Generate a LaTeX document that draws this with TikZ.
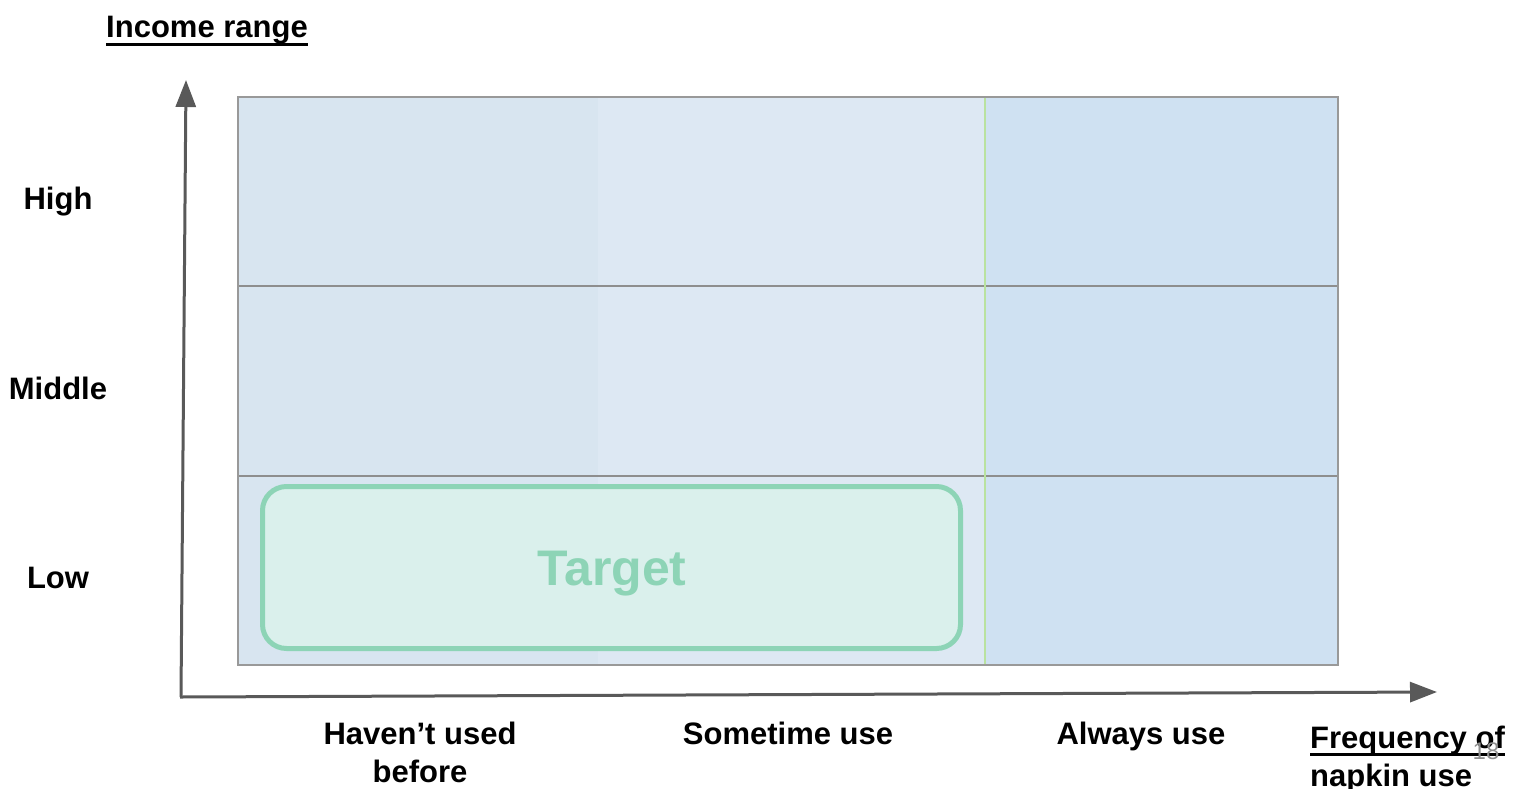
\documentclass[tikz,border=0pt]{standalone}
\usepackage{fontspec}
\setmainfont{Liberation Sans}
\usetikzlibrary{arrows.meta}
\definecolor{axisgray}{HTML}{595959}
\definecolor{gridgray}{HTML}{8E8E8E}
\definecolor{colA}{HTML}{D8E5F0}
\definecolor{colB}{HTML}{DDE8F3}
\definecolor{colC}{HTML}{CFE1F2}
\definecolor{sepgreen}{HTML}{B9E2A0}
\definecolor{tgtline}{HTML}{8DD4B6}
\definecolor{tgtfill}{HTML}{DAF0EC}
\definecolor{pagegray}{HTML}{8E8E8E}
\definecolor{bordergray}{HTML}{999999}
\newcommand\thickul[1]{\setbox0\hbox{#1}\rlap{\vrule height -5pt depth 8pt width \wd0}\box0}
\begin{document}
\begin{tikzpicture}[x=1pt,y=-1pt,
  lbl/.style={font=\fontsize{31}{38}\selectfont\bfseries, inner sep=0pt, align=center, anchor=base},
  axisline/.style={draw=axisgray, line width=3pt, -{Triangle[length=27pt,width=20pt]}},
  gridline/.style={draw=gridgray, line width=2pt}]
\useasboundingbox (0,0) rectangle (1518,788);
% cells
\fill[colA] (238,97) rectangle (598,665);
\fill[colB] (598,97) rectangle (985,665);
\fill[colC] (985,97) rectangle (1338,665);
\draw[gridline] (238,286) -- (1338,286);
\draw[gridline] (238,476) -- (1338,476);
\draw[sepgreen, line width=2pt] (985,97) -- (985,665);
\draw[draw=bordergray, line width=2.5pt] (238,97) rectangle (1338,665);
% target
\node[draw=tgtline, fill=tgtfill, line width=5pt, rounded corners=24pt,
  minimum width=698pt, minimum height=162pt, inner sep=0pt] (target) at (611.5,567.5) {};
\node[text=tgtline, font=\fontsize{50}{58}\selectfont\bfseries, inner sep=0pt, anchor=base] (tgttext) at (612,585) {Target};
% axes
\coordinate (origin) at (181,697);
\coordinate (ytip) at (186,80);
\coordinate (xtip) at (1437,692);
\draw[axisline] (origin) -- (ytip);
\draw[axisline] (180,697) -- (xtip);
% labels
\node[lbl] (income) at (207,37.5) {\thickul{Income range}};
\node[lbl] (high) at (58,209.5) {High};
\node[lbl] (middle) at (58,399.5) {Middle};
\node[lbl] (low) at (58,588.5) {Low};
\node[lbl] (haven) at (420,782) {Haven’t used\\before};
\node[lbl] (sometime) at (788,744) {Sometime use};
\node[lbl] (always) at (1141,744) {Always use};
\node[lbl, align=left, anchor=base west] (freq) at (1310,786) {\thickul{Frequency of}\\\thickul{napkin use}};
\node[text=pagegray, font=\fontsize{24}{28}\selectfont, inner sep=0pt, anchor=base] (page) at (1486,759) {18};
\end{tikzpicture}
\end{document}
